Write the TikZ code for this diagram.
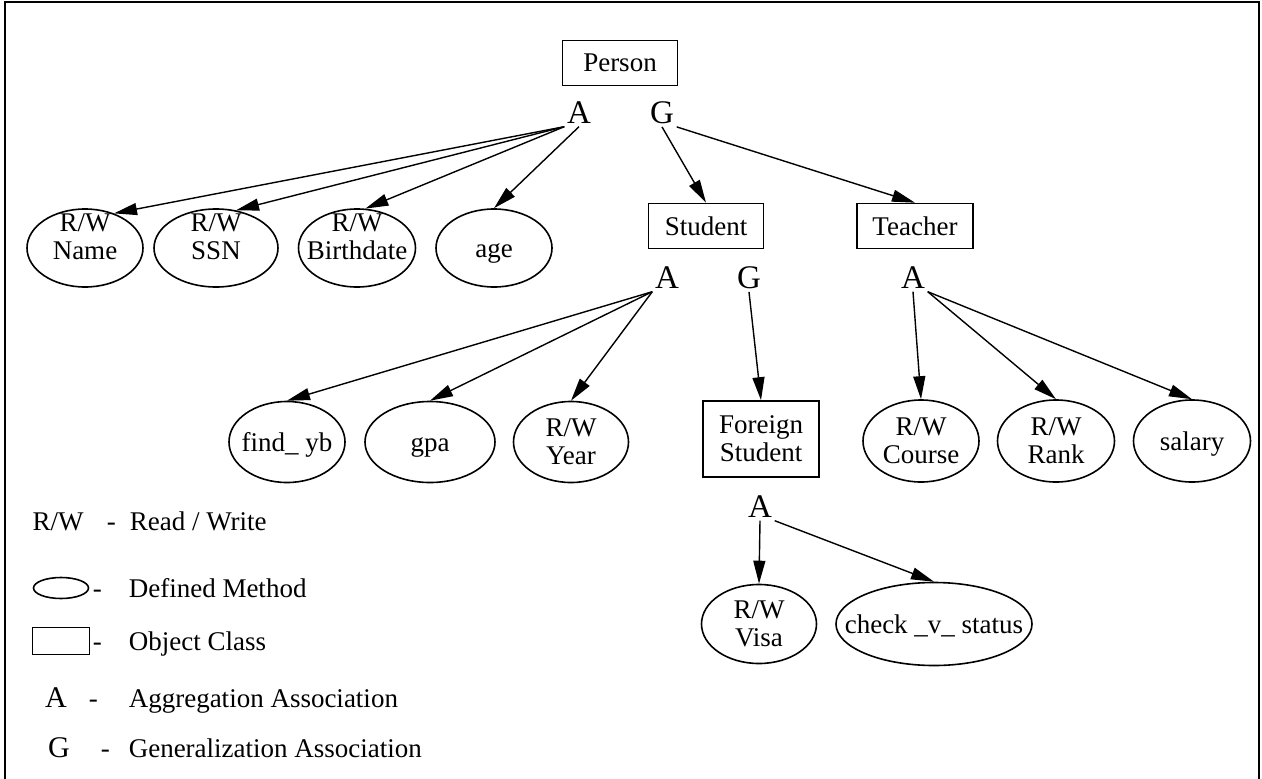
\documentclass[tikz,border=0pt]{standalone}
\usepackage{fontspec}
\setmainfont{Liberation Serif}
\usetikzlibrary{positioning,shapes.geometric,arrows.meta}
\tikzset{font=\fontsize{27pt}{28pt}\selectfont}

\newcommand{\oneln}[1]{\raisebox{-9pt}[0pt][0pt]{\hbox to 0pt{\hss#1\hss}}}
\newcommand{\twoln}[3][-22pt]{\raisebox{#1}[0pt][0pt]{\vbox{\hbox to 0pt{\hss#2\hss}\hbox to 0pt{\hss#3\hss}}}}

\begin{document}
\begin{tikzpicture}[x=1pt,y=-1pt]
	\tikzstyle{every node}=[inner sep=0pt, line width=1.6pt]
	\tikzstyle{cls}=[draw, rectangle, minimum width=115pt, minimum height=45pt]
	\tikzstyle{mth}=[draw, ellipse, minimum width=116pt, minimum height=78pt]
	\tikzstyle{assoc}=[font=\fontsize{33pt}{33pt}\selectfont, inner sep=2pt]
	\tikzstyle{leg}=[anchor=base west]
	\tikzstyle{arr}=[line width=1.4pt, -{Triangle[length=23pt,width=12pt]}]
	\useasboundingbox (0,0) rectangle (1262,779);
	\draw [line width=1.3pt] (5,779) -- (5,2) -- (1259,2) -- (1259,779);

	\node[cls] (person) at (620,63) {\oneln{Person}};
	\node[assoc] (pa) at (579,113) {A};
	\node[assoc] (pg) at (662,113) {G};

	\node[mth] (name) at (85,248) {\twoln[-11pt]{R/W}{Name}};
	\node[mth, minimum width=124pt] (ssn) at (216,248) {\twoln[-11pt]{R/W}{SSN}};
	\node[mth, minimum width=117pt] (birth) at (357,248) {\twoln[-11pt]{R/W}{Birthdate}};
	\node[mth] (age) at (494,248) {\oneln{age}};

	\node[cls] (student) at (706,226) {\oneln{Student}};
	\node[cls, minimum width=116pt] (teacher) at (915,226) {\oneln{Teacher}};
	\node[assoc] (sa) at (667,278) {A};
	\node[assoc] (sg) at (749,278) {G};
	\node[assoc] (ta) at (913,278) {A};

	\node[mth, minimum height=81pt] (findyb) at (287,442) {\oneln{find\_ yb}};
	\node[mth, minimum width=130pt, minimum height=81pt] (gpa) at (430,442) {\oneln{gpa}};
	\node[mth, minimum width=115pt, minimum height=81pt] (year) at (571,442) {\twoln{R/W}{Year}};
	\node[cls, minimum width=116pt, minimum height=76pt] (foreign) at (761,439) {\twoln{Foreign}{Student}};
	\node[mth, minimum height=82pt] (course) at (921,441) {\twoln{R/W}{Course}};
	\node[mth, minimum width=117pt, minimum height=82pt] (rank) at (1056,441) {\twoln{R/W}{Rank}};
	\node[mth, minimum width=117pt, minimum height=82pt] (salary) at (1192,441) {\oneln{salary}};

	\node[assoc] (fa) at (760,507) {A};
	\node[mth, minimum width=115pt, minimum height=79pt] (visa) at (759,624) {\twoln{R/W}{Visa}};
	\node[mth, minimum width=196pt, minimum height=83pt] (check) at (934,624) {\oneln{check \_v\_ status}};

	\draw [arr] (pa.south west) -- (name.50);
	\draw [arr] (pa.south west) -- (ssn.62);
	\draw [arr] (pa.south west) -- (birth.78);
	\draw [arr] (pa.south) -- (age.north);
	\draw [arr] (pg.south) -- (student.north);
	\draw [arr] (pg.south east) -- (teacher.north);

	\draw [arr] (sa.south west) -- (findyb.north);
	\draw [arr] (sa.south west) -- (gpa.north);
	\draw [arr] (sa.south west) -- (year.north);
	\draw [arr] (sg.south) -- (foreign.north);
	\draw [arr] (ta.south) -- (course.north);
	\draw [arr] (ta.south east) -- (rank.north);
	\draw [arr] (ta.south east) -- (salary.north);

	\draw [arr] (fa.south) -- (visa.north);
	\draw [arr] (fa.south east) -- (check.north);

	\node[anchor=base] (lrw) at (58,530) {R/W};
	\node[leg] (lrwtxt) at (106,530) {-\hspace{14pt}Read / Write};
	\node[draw, ellipse, minimum width=55pt, minimum height=21pt] (lmth) at (61,588) {};
	\node[leg] (lmthtxt) at (92,597) {-\hspace{27pt}Defined Method};
	\node[draw, minimum width=57pt, minimum height=27pt] (lcls) at (61,641) {};
	\node[leg] (lclstxt) at (92,650) {-\hspace{27pt}Object Class};
	\node[anchor=base, font=\fontsize{30pt}{30pt}\selectfont] (laa) at (56,707) {A};
	\node[leg] (laatxt) at (88,707) {-\hspace{31pt}Aggregation Association};
	\node[anchor=base, font=\fontsize{30pt}{30pt}\selectfont] (lgg) at (59,757) {G};
	\node[leg] (lggtxt) at (100,757) {-\hspace{19pt}Generalization Association};
\end{tikzpicture}
\end{document}
